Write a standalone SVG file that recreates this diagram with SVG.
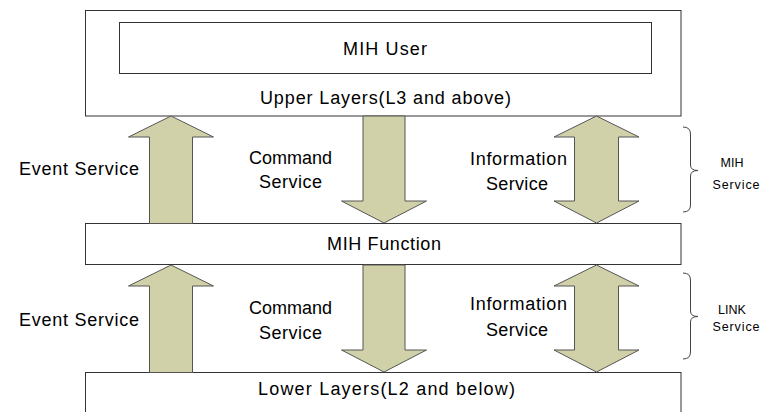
<svg xmlns="http://www.w3.org/2000/svg" width="760" height="412" viewBox="0 0 760 412">
<style>
.box{fill:#fff;stroke:#333;stroke-width:1}
.arr{fill:#d1d1a9;stroke:#555;stroke-width:1;stroke-linejoin:miter}
.t{font-family:"Liberation Sans","DejaVu Sans",sans-serif;font-size:18px;fill:#000}
.s{font-family:"Liberation Sans","DejaVu Sans",sans-serif;font-size:12.5px;fill:#000}
.br{fill:none;stroke:#444;stroke-width:1}
</style>
<rect width="760" height="412" fill="#fff"/>
<g id="upper-layers">
<rect class="box" x="85.5" y="10.5" width="595.5" height="105.5"/>
<text class="t" x="260" y="104" textLength="251">Upper Layers(L3 and above)</text>
</g>
<g id="mih-user">
<rect class="box" x="119.5" y="22.5" width="532" height="51"/>
<text class="t" x="343" y="54.5" textLength="84">MIH User</text>
</g>
<g id="mih-function">
<rect class="box" x="85.5" y="223.5" width="595.5" height="41"/>
<text class="t" x="327" y="249.5" textLength="114">MIH Function</text>
</g>
<g id="lower-layers">
<rect class="box" x="85.5" y="372.5" width="595.5" height="50"/>
<text class="t" x="258" y="394.5" textLength="257">Lower Layers(L2 and below)</text>
</g>
<g id="connectors">
<polygon class="arr" points="171,116 213.5,137 192.5,137 192.5,223.5 149.5,223.5 149.5,137 128.5,137"/>
<polygon class="arr" points="363,116 405,116 405,201 426.5,201 384,223 341.5,201 363,201"/>
<polygon class="arr" points="596.5,116 639,137 618.5,137 618.5,201 639,201 596.5,223 554,201 574.5,201 574.5,137 554,137"/>
<polygon class="arr" points="171,265 213.5,286 192.5,286 192.5,372.5 149.5,372.5 149.5,286 128.5,286"/>
<polygon class="arr" points="363,265 405,265 405,350 426.5,350 384,372 341.5,350 363,350"/>
<polygon class="arr" points="596.5,265 639,286 618.5,286 618.5,350 639,350 596.5,372 554,350 574.5,350 574.5,286 554,286"/>
</g>
<g id="labels">
<text class="t" x="19" y="174.5" textLength="120">Event Service</text>
<text class="t" x="249" y="163.5">Command</text>
<text class="t" x="259" y="187.5" textLength="63">Service</text>
<text class="t" x="470" y="164.5" textLength="97">Information</text>
<text class="t" x="486" y="189.5" textLength="62">Service</text>
<text class="t" x="19" y="325.5" textLength="120">Event Service</text>
<text class="t" x="249" y="313.5">Command</text>
<text class="t" x="259" y="338.5" textLength="63">Service</text>
<text class="t" x="470" y="309.5" textLength="97">Information</text>
<text class="t" x="486" y="335.5" textLength="62">Service</text>
</g>
<g id="mih-service">
<path class="br" d="M683,127 Q690.5,127 690.5,134 L690.5,165 Q690.5,170.5 698,170.5 Q690.5,170.5 690.5,176 L690.5,205 Q690.5,212 683,212"/>
<text class="s" x="732" y="166.5" text-anchor="middle">MIH</text>
<text class="s" x="712.5" y="189" textLength="47">Service</text>
</g>
<g id="link-service">
<path class="br" d="M683,273 Q690.5,273 690.5,280 L690.5,311 Q690.5,316.5 698,316.5 Q690.5,316.5 690.5,322 L690.5,352 Q690.5,359 683,359"/>
<text class="s" x="732" y="313.5" text-anchor="middle">LINK</text>
<text class="s" x="712.5" y="331" textLength="47">Service</text>
</g>
</svg>
